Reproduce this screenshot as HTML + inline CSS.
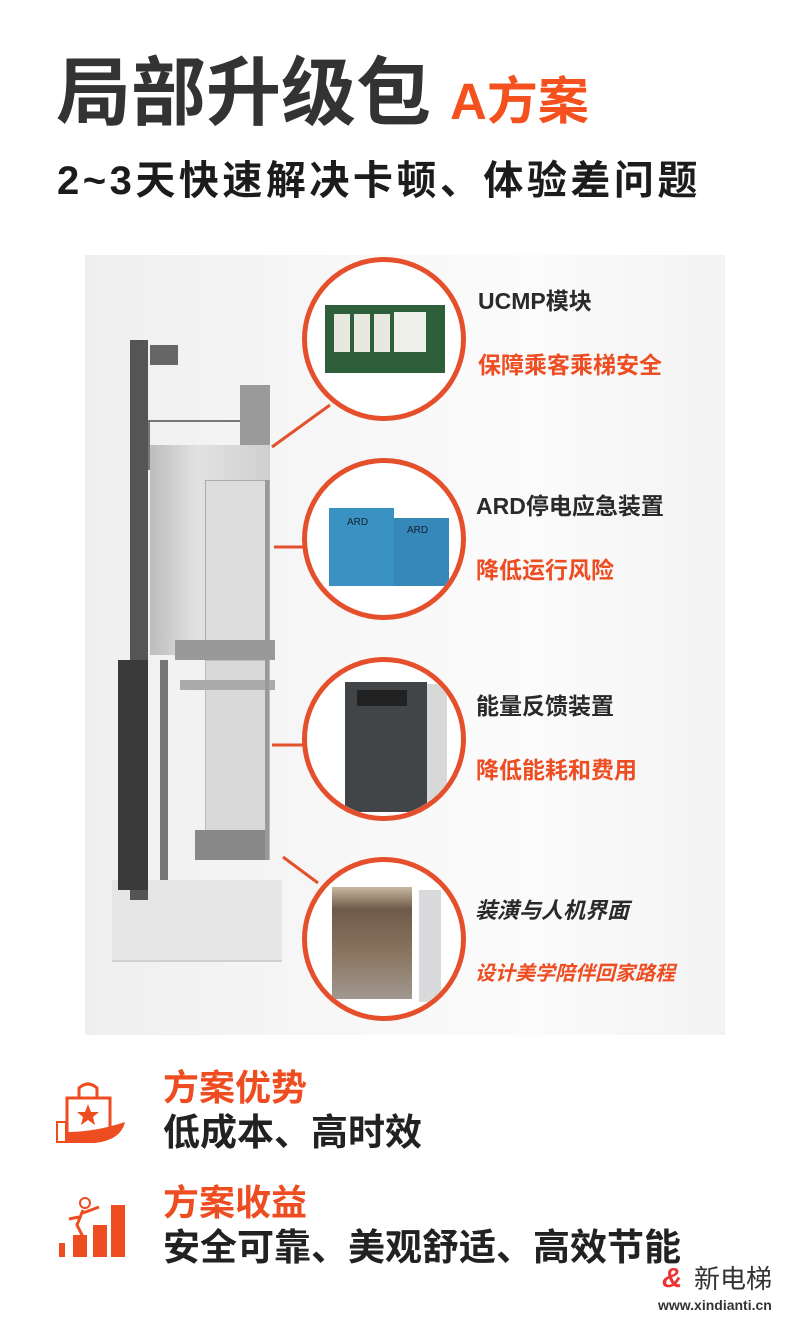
<!DOCTYPE html>
<html><head><meta charset="utf-8"><style>
*{margin:0;padding:0;box-sizing:border-box}
body{width:800px;height:1326px;background:#fff;position:relative;overflow:hidden;font-family:"Liberation Sans","Noto Sans CJK SC",sans-serif}
.t{position:absolute;white-space:nowrap;font-weight:bold;line-height:1}
.o{color:#ee4d22}
.k{color:#2a2a2a}
.c{position:absolute;border:5px solid #e5502c;border-radius:50%;background:#fff;overflow:hidden}
.r{position:absolute}
</style></head><body>
<div class="t k" style="left:56px;top:56px;font-size:75px;color:#333">局部升级包</div>
<div class="t o" style="left:450px;top:76px;font-size:51px;color:#f4511e">A方案</div>
<div class="t k" style="left:57px;top:161px;font-size:40px;color:#1c1c1c;letter-spacing:3.5px">2~3天快速解决卡顿、体验差问题</div>

<div class="r" style="left:85px;top:255px;width:640px;height:780px;background:linear-gradient(90deg,#efefef,#f7f7f7 40%,#fbfbfb 70%,#f3f3f3)"></div>

<div class="r" style="left:112px;top:880px;width:170px;height:80px;background:#e6e6e6;box-shadow:0 2px 0 #d0d0d0"></div>
<div class="r" style="left:130px;top:340px;width:18px;height:560px;background:#555"></div>
<div class="r" style="left:150px;top:345px;width:28px;height:20px;background:#666"></div>
<div class="r" style="left:118px;top:660px;width:30px;height:230px;background:#3a3a3a"></div>
<div class="r" style="left:148px;top:420px;width:120px;height:50px;border:2px solid #777;border-bottom:none"></div>
<div class="r" style="left:240px;top:385px;width:30px;height:70px;background:#9a9a9a"></div>
<div class="r" style="left:150px;top:445px;width:120px;height:210px;background:linear-gradient(90deg,#bdbdbd,#e2e2e2 40%,#cfcfcf)"></div>
<div class="r" style="left:205px;top:480px;width:65px;height:175px;background:#dcdcdc;border:1px solid #aaa"></div>
<div class="r" style="left:175px;top:640px;width:100px;height:20px;background:#999"></div>
<div class="r" style="left:205px;top:660px;width:65px;height:200px;background:#d9d9d9;border:1px solid #bbb"></div>
<div class="r" style="left:180px;top:680px;width:95px;height:10px;background:#aaa"></div>
<div class="r" style="left:160px;top:660px;width:8px;height:220px;background:#777"></div>
<div class="r" style="left:195px;top:830px;width:70px;height:30px;background:#888"></div>
<div class="r" style="left:265px;top:480px;width:4px;height:380px;background:#999"></div>

<svg class="r" style="left:0;top:0" width="800" height="1326">
<g stroke="#e5502c" stroke-width="3" fill="none">
<line x1="272" y1="447" x2="330" y2="405"/>
<line x1="274" y1="547" x2="305" y2="547"/>
<line x1="272" y1="745" x2="303" y2="745"/>
<line x1="283" y1="857" x2="318" y2="883"/>
</g></svg>

<div class="c" style="left:302px;top:257px;width:164px;height:164px">
 <div class="r" style="left:18px;top:43px;width:120px;height:68px;background:#2f5e3a"></div>
 <div class="r" style="left:27px;top:52px;width:16px;height:38px;background:#e8e8e0"></div>
 <div class="r" style="left:47px;top:52px;width:16px;height:38px;background:#e8e8e0"></div>
 <div class="r" style="left:67px;top:52px;width:16px;height:38px;background:#e8e8e0"></div>
 <div class="r" style="left:87px;top:50px;width:32px;height:40px;background:#f0f0ea"></div>
</div>
<div class="c" style="left:302px;top:458px;width:164px;height:162px">
 <div class="r" style="left:22px;top:45px;width:65px;height:78px;background:#3a92c2"></div>
 <div class="r" style="left:87px;top:55px;width:55px;height:68px;background:#3588b8"></div>
 <div class="t" style="left:40px;top:55px;font-size:10px;color:#123;font-weight:normal">ARD</div>
 <div class="t" style="left:100px;top:63px;font-size:10px;color:#123;font-weight:normal">ARD</div>
</div>
<div class="c" style="left:302px;top:657px;width:164px;height:164px">
 <div class="r" style="left:38px;top:20px;width:82px;height:130px;background:#424548"></div>
 <div class="r" style="left:120px;top:22px;width:20px;height:128px;background:#d8d8d8"></div>
 <div class="r" style="left:50px;top:28px;width:50px;height:16px;background:#222"></div>
</div>
<div class="c" style="left:302px;top:857px;width:164px;height:164px">
 <div class="r" style="left:25px;top:25px;width:80px;height:112px;background:linear-gradient(#c8b8a0,#6e5a48 20%,#8a7560 60%,#a09890)"></div>
 <div class="r" style="left:112px;top:28px;width:22px;height:112px;background:#d8dadc"></div>
</div>

<div class="t k" style="left:478px;top:290px;font-size:23px">UCMP模块</div>
<div class="t o" style="left:478px;top:354px;font-size:23px">保障乘客乘梯安全</div>
<div class="t k" style="left:476px;top:495px;font-size:23px">ARD停电应急装置</div>
<div class="t o" style="left:476px;top:559px;font-size:23px">降低运行风险</div>
<div class="t k" style="left:476px;top:695px;font-size:23px">能量反馈装置</div>
<div class="t o" style="left:476px;top:759px;font-size:23px">降低能耗和费用</div>
<div class="t k" style="left:475px;top:900px;font-size:22px;font-style:italic">装潢与人机界面</div>
<div class="t o" style="left:475px;top:964px;font-size:20px;font-style:italic">设计美学陪伴回家路程</div>

<svg class="r" style="left:55px;top:1080px" width="75" height="70">
 <path d="M12 18 H55 V55 H12 Z" fill="none" stroke="#ee4d22" stroke-width="3"/>
 <path d="M24 18 V8 Q33 0 42 8 V18" fill="none" stroke="#ee4d22" stroke-width="3"/>
 <polygon points="33,24 36,32 44,32 38,37 40,45 33,40 26,45 28,37 22,32 30,32" fill="#ee4d22"/>
 <path d="M12 52 Q40 52 70 42 Q66 60 40 63 H12 Z" fill="#ee4d22"/>
 <rect x="2" y="42" width="9" height="20" fill="none" stroke="#ee4d22" stroke-width="2"/>
</svg>
<svg class="r" style="left:55px;top:1195px" width="75" height="65">
 <rect x="4" y="48" width="6" height="14" fill="#ee4d22"/>
 <rect x="18" y="40" width="14" height="22" fill="#ee4d22"/>
 <rect x="38" y="30" width="14" height="32" fill="#ee4d22"/>
 <rect x="56" y="10" width="14" height="52" fill="#ee4d22"/>
 <circle cx="30" cy="8" r="5" fill="none" stroke="#ee4d22" stroke-width="2"/>
 <path d="M28 15 L22 30 L28 42 M24 22 L14 24 M28 18 L44 12" fill="none" stroke="#ee4d22" stroke-width="3"/>
</svg>

<div class="t o" style="left:163px;top:1070px;font-size:36px">方案优势</div>
<div class="t k" style="left:163px;top:1114px;font-size:37px;color:#222">低成本、高时效</div>
<div class="t o" style="left:163px;top:1185px;font-size:36px">方案收益</div>
<div class="t k" style="left:163px;top:1229px;font-size:37px;color:#222">安全可靠、美观舒适、高效节能</div>

<div class="t" style="left:662px;top:1264px;font-size:28px;color:#e33;font-style:italic">&amp;</div>
<div class="t" style="left:694px;top:1266px;font-size:26px;color:#333;font-weight:normal">新电梯</div>
<div class="t" style="left:658px;top:1298px;font-size:14px;color:#333">www.xindianti.cn</div>
</body></html>
